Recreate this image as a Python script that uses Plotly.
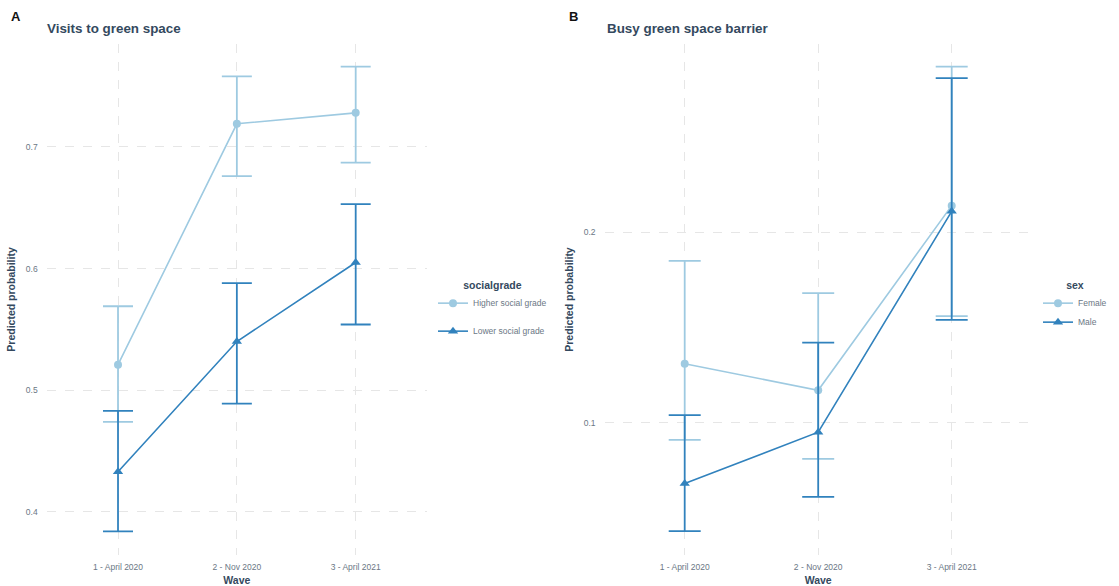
import plotly.graph_objects as go

# Survey waves (x categories)
waves = ["1 - April 2020", "2 - Nov 2020", "3 - April 2021"]

# Panel A: visits to green space, by social grade
higher_p = [0.521, 0.719, 0.728]
higher_lo = [0.474, 0.676, 0.687]
higher_hi = [0.569, 0.758, 0.766]

lower_p = [0.433, 0.540, 0.605]
lower_lo = [0.384, 0.489, 0.554]
lower_hi = [0.483, 0.588, 0.653]

# Panel B: busy green space barrier, by sex
female_p = [0.131, 0.117, 0.214]
female_lo = [0.091, 0.081, 0.156]
female_hi = [0.185, 0.168, 0.287]

male_p = [0.068, 0.095, 0.211]
male_lo = [0.043, 0.061, 0.154]
male_hi = [0.104, 0.142, 0.281]

yticks_a = [0.4, 0.5, 0.6, 0.7]
yticks_b = [0.1, 0.2]

LIGHT = "#9ecae1"
DARK = "#3182bd"
TITLE_C = "#34495e"
TICK_C = "#6b7785"
GRID_C = "#e6e6e6"
FONT = "Liberation Sans, Arial, sans-serif"


def series(name, p, lo, hi, color, symbol, xa, ya, legend, group, cap):
    return go.Scatter(
        x=waves, y=p, name=name, mode="lines+markers",
        xaxis=xa, yaxis=ya, legend=legend, legendgroup=group,
        line=dict(color=color, width=1.6),
        marker=dict(color=color, symbol=symbol, size=9 if symbol == "triangle-up" else 8),
        error_y=dict(type="data", symmetric=False,
                     array=[h - v for h, v in zip(hi, p)],
                     arrayminus=[v - l for v, l in zip(p, lo)],
                     color=color, thickness=1.8, width=cap),
        hoverinfo="x+y",
    )


fig = go.Figure()
fig.add_trace(series("Higher social grade", higher_p, higher_lo, higher_hi, LIGHT, "circle", "x", "y", "legend", "a1", 15))
fig.add_trace(series("Lower social grade", lower_p, lower_lo, lower_hi, DARK, "triangle-up", "x", "y", "legend", "a2", 15))
fig.add_trace(series("Female", female_p, female_lo, female_hi, LIGHT, "circle", "x2", "y2", "legend2", "b1", 16))
fig.add_trace(series("Male", male_p, male_lo, male_hi, DARK, "triangle-up", "x2", "y2", "legend2", "b2", 16))

ydom = [1 - 555 / 586, 1 - 44 / 586]

xcommon = dict(
    type="category", range=[-0.6, 2.6], showline=False, zeroline=False,
    showgrid=True, gridcolor=GRID_C, griddash="dash", gridwidth=1,
    ticks="", ticklabelstandoff=5, tickfont=dict(size=8.5, color=TICK_C, family=FONT),
    title=dict(text="<b>Wave</b>", font=dict(size=10.5, color=TITLE_C, family=FONT), standoff=8),
    automargin=False, fixedrange=True,
)
ycommon = dict(
    showline=False, zeroline=False,
    showgrid=True, gridcolor=GRID_C, griddash="dash", gridwidth=1,
    ticks="", ticklabelstandoff=8, tickfont=dict(size=8.5, color=TICK_C, family=FONT),
    title=dict(text="<b>Predicted probability</b>", font=dict(size=10.5, color=TITLE_C, family=FONT), standoff=8),
    automargin=False, fixedrange=True,
)

fig.update_layout(
    width=1119, height=586,
    margin=dict(l=0, r=0, t=0, b=0),
    paper_bgcolor="white", plot_bgcolor="white",
    font=dict(family=FONT, color=TICK_C),
    xaxis=dict(domain=[46.7 / 1119, 427 / 1119], **xcommon),
    xaxis2=dict(domain=[604.6 / 1119, 1031.8 / 1119], anchor="y2", **xcommon),
    yaxis=dict(domain=ydom, range=[0.3645, 0.7846], tickvals=yticks_a,
               ticktext=[f"{v:.1f}" for v in yticks_a], **ycommon),
    yaxis2=dict(domain=ydom, range=[0.0305, 0.2989], anchor="x2", tickvals=yticks_b,
                ticktext=[f"{v:.1f}" for v in yticks_b], **ycommon),
    legend=dict(
        x=433 / 1119, y=1 - 275 / 586, xanchor="left", yanchor="top",
        title=dict(text="<b>socialgrade</b>", side="top center",
                   font=dict(size=10.5, color=TITLE_C, family=FONT)),
        font=dict(size=8.5, color=TICK_C, family=FONT),
        tracegroupgap=9, bgcolor="rgba(0,0,0,0)", itemwidth=30,
    ),
    legend2=dict(
        x=1038 / 1119, y=1 - 275 / 586, xanchor="left", yanchor="top",
        title=dict(text="<b>sex</b>", side="top center",
                   font=dict(size=10.5, color=TITLE_C, family=FONT)),
        font=dict(size=8.5, color=TICK_C, family=FONT),
        tracegroupgap=0, bgcolor="rgba(0,0,0,0)", itemwidth=30,
    ),
    showlegend=True,
)

# Panel letters and panel titles
annotations = [
    dict(text="<b>A</b>", x=9 / 1119, y=1 - 17 / 586, font=dict(size=13, color="#111111")),
    dict(text="<b>Visits to green space</b>", x=45 / 1119, y=1 - 29 / 586, font=dict(size=13.4, color=TITLE_C)),
    dict(text="<b>B</b>", x=567 / 1119, y=1 - 17 / 586, font=dict(size=13, color="#111111")),
    dict(text="<b>Busy green space barrier</b>", x=605 / 1119, y=1 - 29 / 586, font=dict(size=13.4, color=TITLE_C)),
]
for a in annotations:
    fig.add_annotation(xref="paper", yref="paper", xanchor="left", yanchor="middle",
                       showarrow=False, font_family=FONT, **a)

fig.write_html("out.html")
